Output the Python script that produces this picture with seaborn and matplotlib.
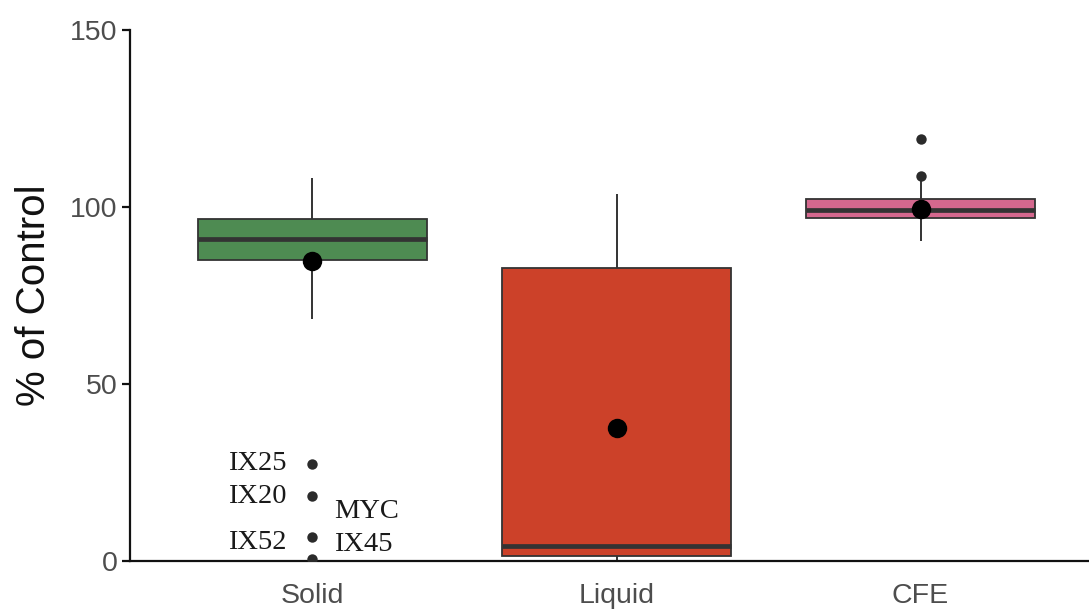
import matplotlib
matplotlib.use("Agg")
import matplotlib.pyplot as plt
import seaborn as sns
import pandas as pd

# ---- data ----
categories = ["Solid", "Liquid", "CFE"]
whisker_low = [68.5, 0.3, 90.4]
q1 = [85.1, 1.4, 96.9]
median = [91.0, 4.2, 99.2]
q3 = [96.6, 82.9, 102.2]
whisker_high = [108.1, 103.7, 108.7]
means = [84.8, 37.6, 99.4]

outlier_groups = ["Solid", "Solid", "Solid", "Solid", "CFE", "CFE"]
outlier_values = [27.5, 18.3, 6.7, 0.5, 108.7, 119.1]

label_texts = ["IX25", "IX20", "IX52", "MYC", "IX45"]
label_values = [27.5, 18.3, 6.7, 0.5, 0.5]

colors = ["#4e8b52", "#cc4129", "#d4688e"]

# five-number summaries as data so the box quartiles match
rows = []
for c, lo, a, m, b, hi in zip(categories, whisker_low, q1, median, q3, whisker_high):
    for v in (lo, a, m, b, hi):
        rows.append({"group": c, "value": v})
df = pd.DataFrame(rows)
df_mean = pd.DataFrame({"group": categories, "value": means})
df_out = pd.DataFrame({"group": outlier_groups, "value": outlier_values})

sns.set_theme(style="white")
plt.rcParams["font.family"] = ["Liberation Sans", "DejaVu Sans"]

fig = plt.figure(figsize=(10.89, 6.12), dpi=100)
ax = fig.add_axes([0.1194, 0.0833, 0.8806, 0.8677])

sns.boxplot(data=df, x="group", y="value", order=categories, hue="group",
            hue_order=categories, palette=colors, legend=False, saturation=1,
            whis=(0, 100), showfliers=False, showcaps=False, width=0.753,
            linewidth=1.3, linecolor="#333333",
            medianprops=dict(color="#333333", linewidth=3.4),
            whiskerprops=dict(color="#333333", linewidth=1.4),
            ax=ax)

sns.stripplot(data=df_out, x="group", y="value", order=categories, jitter=False,
              color="#2b2b2b", size=7.5, linewidth=0, ax=ax, zorder=5)
sns.stripplot(data=df_mean, x="group", y="value", order=categories, jitter=False,
              color="#000000", size=14, linewidth=0, ax=ax, zorder=6)

# point labels for Solid outliers
serif = ["Liberation Serif", "DejaVu Serif"]
offsets = [(-26, 0, "right"), (-26, 0, "right"), (-26, -5, "right"),
           (22, 48, "left"), (22, 15, "left")]
for t, v, (dx, dy, ha) in zip(label_texts, label_values, offsets):
    ax.annotate(t, xy=(0, v), xytext=(dx, dy), textcoords="offset pixels",
                ha=ha, va="center", fontsize=20.5, family=serif, color="#1a1a1a")

ax.set_ylim(0, 150)
ax.set_xlim(-0.60, 2.554)
ax.set_yticks([0, 50, 100, 150])
ax.set_xlabel("")
ax.set_ylabel("% of Control", fontsize=29, color="#111111", labelpad=12)

for s in ["top", "right"]:
    ax.spines[s].set_visible(False)
for s in ["left", "bottom"]:
    ax.spines[s].set_color("#111111")
    ax.spines[s].set_linewidth(1.6)

ax.tick_params(axis="y", direction="out", length=6, width=1.6, color="#111111",
               labelsize=20.5, labelcolor="#4d4d4d", pad=3, left=True)
ax.tick_params(axis="x", length=0, labelsize=20.5, labelcolor="#4d4d4d", pad=16)

fig.savefig("out.png", dpi=100)
